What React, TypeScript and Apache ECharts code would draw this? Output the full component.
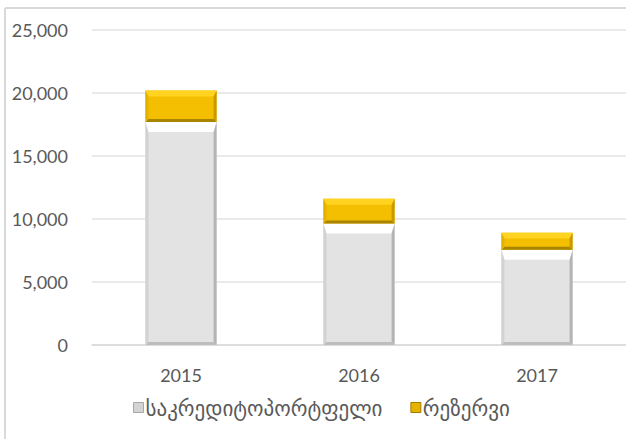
import React, { useEffect, useRef } from "react";
import * as echarts from "echarts";

const years = ["2015", "2016", "2017"];
const portfolio = [17700, 9650, 7550];
const reserve = [2500, 1950, 1350];
const seriesNames = ["საკრედიტოპორტფელი", "რეზერვი"];
const yTicks = [0, 5000, 10000, 15000, 20000, 25000];

type Pal = { center: string; top: string; left: string; right: string; bottom: string; bt: number; bs: number; bb: number };

const grayPal: Pal = { center: "#e3e3e3", top: "#ffffff", left: "#d2d2d2", right: "#b4b4b4", bottom: "#bdbdbd", bt: 10, bs: 3, bb: 3 };
const goldPal: Pal = { center: "#f3bf00", top: "#ffd31f", left: "#e2b200", right: "#c89a00", bottom: "#a98400", bt: 6, bs: 3, bb: 3 };

function makeRender(pal: Pal) {
  return (params: any, api: any) => {
    const idx = api.value(0);
    const lo = api.value(1);
    const hi = api.value(2);
    const p1 = api.coord([idx, hi]);
    const p0 = api.coord([idx, lo]);
    const w = api.size([1, 0])[0] * 0.4;
    const x = p1[0] - w / 2;
    const y = p1[1];
    const h = p0[1] - p1[1];
    const bt = Math.min(pal.bt, h / 3);
    const bb = Math.min(pal.bb, h / 4);
    const bs = pal.bs;
    return {
      type: "group",
      children: [
        { type: "rect", shape: { x, y, width: w, height: h }, style: { fill: pal.center } },
        { type: "polygon", shape: { points: [[x, y], [x + w, y], [x + w - bs, y + bt], [x + bs, y + bt]] }, style: { fill: pal.top } },
        { type: "polygon", shape: { points: [[x, y + h], [x + w, y + h], [x + w - bs, y + h - bb], [x + bs, y + h - bb]] }, style: { fill: pal.bottom } },
        { type: "polygon", shape: { points: [[x, y], [x + bs, y + bt], [x + bs, y + h - bb], [x, y + h]] }, style: { fill: pal.left } },
        { type: "polygon", shape: { points: [[x + w, y], [x + w - bs, y + bt], [x + w - bs, y + h - bb], [x + w, y + h]] }, style: { fill: pal.right } },
      ],
    };
  };
}

export default function App() {
  const ref = useRef<HTMLDivElement>(null);
  useEffect(() => {
    if (!ref.current) return;
    const chart = echarts.init(ref.current, undefined, { renderer: "svg" });
    const portData = years.map((_, i) => [i, 0, portfolio[i]]);
    const resData = years.map((_, i) => [i, portfolio[i], portfolio[i] + reserve[i]]);
    const font = "Lato, 'DejaVu Sans', sans-serif";
    chart.setOption({
      animation: false,
      backgroundColor: "#ffffff",
      grid: { left: 92, top: 30, width: 540, height: 315, containLabel: false },
      xAxis: {
        type: "category",
        data: years,
        axisLine: { show: true, lineStyle: { color: "#d9d9d9", width: 1.5 } },
        axisTick: { show: false },
        axisLabel: { color: "#595959", fontSize: 18, fontFamily: font, margin: 21 },
      },
      yAxis: {
        type: "value",
        min: 0,
        max: 25000,
        interval: 5000,
        axisLine: { show: false },
        axisTick: { show: false },
        splitLine: { lineStyle: { color: "#e3e3e3", width: 1.5 } },
        axisLabel: {
          color: "#595959",
          fontSize: 18,
          fontFamily: font,
          margin: 24,
          formatter: (v: number) => (yTicks.includes(v) ? v.toLocaleString("en-US") : ""),
        },
      },
      legend: {
        left: 128,
        top: 392,
        itemWidth: 10,
        itemHeight: 10,
        itemGap: 28,
        textStyle: { color: "#595959", fontSize: 21, fontFamily: font, padding: [0, 0, 0, -3] },
        data: [
          { name: seriesNames[0], icon: "rect", itemStyle: { color: "#d4d4d4", borderColor: "#a8a8a8", borderWidth: 1 } },
          { name: seriesNames[1], icon: "rect", itemStyle: { color: "#e6b400", borderColor: "#a07c00", borderWidth: 1 } },
        ],
      },
      graphic: [
        { type: "line", shape: { x1: 5, y1: 8, x2: 5, y2: 439 }, style: { stroke: "#d9d9d9", lineWidth: 2 } },
        { type: "line", shape: { x1: 5, y1: 8, x2: 626, y2: 8 }, style: { stroke: "#d9d9d9", lineWidth: 2 } },
      ],
      series: [
        {
          name: seriesNames[0],
          type: "custom",
          renderItem: makeRender(grayPal),
          encode: { x: 0, y: [1, 2] },
          itemStyle: { color: "#d4d4d4" },
          data: portData,
          z: 2,
        },
        {
          name: seriesNames[1],
          type: "custom",
          renderItem: makeRender(goldPal),
          encode: { x: 0, y: [1, 2] },
          itemStyle: { color: "#e6b400" },
          data: resData,
          z: 3,
        },
      ],
    });
    return () => chart.dispose();
  }, []);
  return <div ref={ref} style={{ position: "fixed", left: 0, top: 0, width: 626, height: 439 }} />;
}
